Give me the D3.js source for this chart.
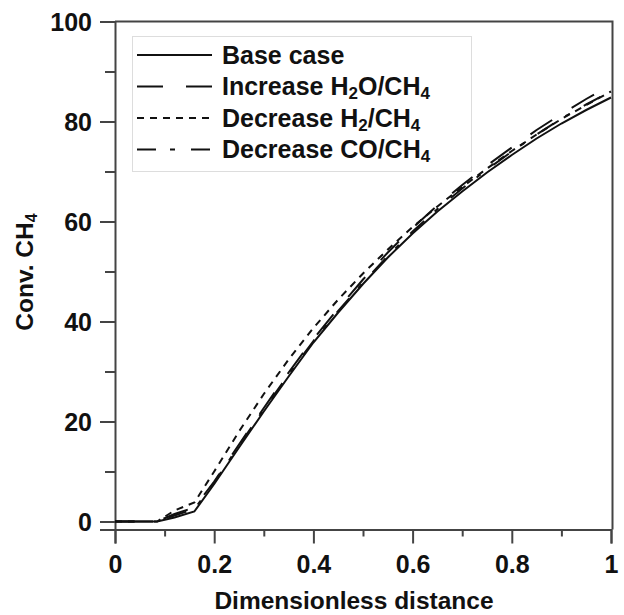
<!DOCTYPE html>
<html>
<head>
<meta charset="utf-8">
<script src="https://cdn.jsdelivr.net/npm/d3@7"></script>
<style>
  body { margin: 0; background: #fff; }
  svg text { font-family: "Liberation Sans", Arial, sans-serif; font-weight: bold; fill: #111; }
</style>
</head>
<body>
<svg id="chart"></svg>
<script>
// data
const distance = [0, 0.085, 0.12, 0.16, 0.2, 0.25, 0.3, 0.35, 0.4, 0.45, 0.5, 0.55, 0.6, 0.65, 0.7, 0.75, 0.8, 0.85, 0.9, 0.95, 1.0];
const baseCase = [0, 0, 0.8, 2, 7.5, 14.8, 22, 29, 35.8, 41.8, 47.5, 52.8, 57.6, 62, 66, 69.8, 73.3, 76.6, 79.6, 82.3, 84.8];
const incH2O   = [0, 0, 1.5, 2.8, 8, 15.4, 22.7, 29.8, 36.5, 42.6, 48.4, 53.8, 58.7, 63.2, 67.3, 71.2, 74.8, 78.3, 81.5, 84.5, 87.3];
const decH2    = [0, 0, 2.2, 3.8, 10, 18, 25.5, 32.4, 38.7, 44.4, 49.6, 54.4, 58.9, 63, 66.9, 70.6, 74.1, 77.4, 80.5, 83.3, 86];
const decCO    = [0, 0, 1.2, 2.5, 7.8, 15.2, 22.4, 29.4, 36.1, 42.1, 47.8, 53.1, 58, 62.5, 66.6, 70.4, 74, 77.4, 80.6, 83.4, 86];
const seriesNames = ["Base case", "Increase H2O/CH4", "Decrease H2/CH4", "Decrease CO/CH4"];
const seriesDash = ["none", "26,23", "7,6", "19,14,5,16"];
const xTicks = [0, 0.2, 0.4, 0.6, 0.8, 1];
const yTicks = [0, 20, 40, 60, 80, 100];

const canvWidth = 624;
const canvHeight = 615;

const svg = d3.select("#chart")
    .attr("width", canvWidth)
    .attr("height", canvHeight);

// scales (y axis sits a little below zero)
const x = d3.scaleLinear().domain([0, 1]).range([115, 611]);
const y = d3.scaleLinear().domain([-1.6, 100]).range([529.5, 21.5]);

// put a label with subscripted digits into a text node
function subLabel(sel, str, subSize, shift) {
    const parts = str.split(/(?<=[A-Z])(\d)/);
    parts.forEach(function (p, i) {
        const isSub = i % 2 === 1;
        let dy = null;
        if (isSub) dy = shift;
        else if (i > 0) dy = -shift;
        if (p === "" && !(i > 0)) return;
        sel.append("tspan")
            .attr("font-size", isSub ? subSize : null)
            .attr("dy", dy)
            .text(p);
    });
}

// frame (top and right)
svg.append("path")
    .attr("d", "M" + x(0) + "," + y(100) + "H" + (x(1) + 1.5) + "V" + y(-1.6))
    .attr("fill", "none")
    .attr("stroke", "#444")
    .attr("stroke-width", 2);

// x axis
svg.append("g")
    .attr("transform", "translate(0," + y(-1.6) + ")")
    .call(d3.axisBottom(x).tickValues(xTicks).tickFormat(d3.format("")).tickSize(14).tickPadding(12));
svg.append("g")
    .attr("transform", "translate(0," + y(-1.6) + ")")
    .call(d3.axisBottom(x).tickValues([0.1, 0.3, 0.5, 0.7, 0.9]).tickSize(7).tickFormat(""))
    .call(g => g.select(".domain").remove());

// y axis
const yAxis = svg.append("g")
    .attr("transform", "translate(" + x(0) + ",0)")
    .call(d3.axisLeft(y).tickValues(yTicks).tickSize(15).tickPadding(8));
svg.append("g")
    .attr("transform", "translate(" + x(0) + ",0)")
    .call(d3.axisLeft(y).tickValues([10, 30, 50, 70, 90]).tickSize(10).tickFormat(""))
    .call(g => g.select(".domain").remove());

svg.selectAll(".domain").attr("stroke", "#444").attr("stroke-width", 2);
svg.selectAll(".tick line").attr("stroke", "#444").attr("stroke-width", 2);
svg.selectAll(".tick text").attr("font-size", 25).attr("fill", "#111")
    .attr("font-family", "'Liberation Sans', Arial, sans-serif").attr("font-weight", "bold");
yAxis.selectAll(".tick text").attr("dy", "0.36em");

// axis titles
svg.append("text")
    .attr("x", 354)
    .attr("y", 609)
    .attr("text-anchor", "middle")
    .attr("font-size", 24.5)
    .text("Dimensionless distance");

const yTitle = svg.append("text")
    .attr("transform", "translate(33,272) rotate(-90)")
    .attr("text-anchor", "middle")
    .attr("font-size", 24.5);
subLabel(yTitle, "Conv. CH4", 16, 4);

// curves
const allSeries = [baseCase, incH2O, decH2, decCO];
const line = d3.line()
    .x(function (d, i) { return x(distance[i]); })
    .y(function (d) { return y(d); });

allSeries.forEach(function (s, k) {
    svg.append("path")
        .datum(s)
        .attr("d", line)
        .attr("fill", "none")
        .attr("stroke", "#111")
        .attr("stroke-width", 2)
        .attr("stroke-dasharray", seriesDash[k]);
});

// legend
const legend = svg.append("g");
legend.append("rect")
    .attr("x", 132.5).attr("y", 36.5)
    .attr("width", 339).attr("height", 135)
    .attr("fill", "#fff")
    .attr("stroke", "#ddd")
    .attr("stroke-width", 1);

seriesNames.forEach(function (name, k) {
    const ly = 55 + k * 31.5;
    legend.append("line")
        .attr("x1", 137).attr("x2", 212)
        .attr("y1", ly).attr("y2", ly)
        .attr("stroke", "#111")
        .attr("stroke-width", 2)
        .attr("stroke-dasharray", seriesDash[k]);
    const t = legend.append("text")
        .attr("x", 222)
        .attr("y", ly + 8.5)
        .attr("font-size", 25);
    subLabel(t, name, 17, 4);
});
</script>
</body>
</html>
